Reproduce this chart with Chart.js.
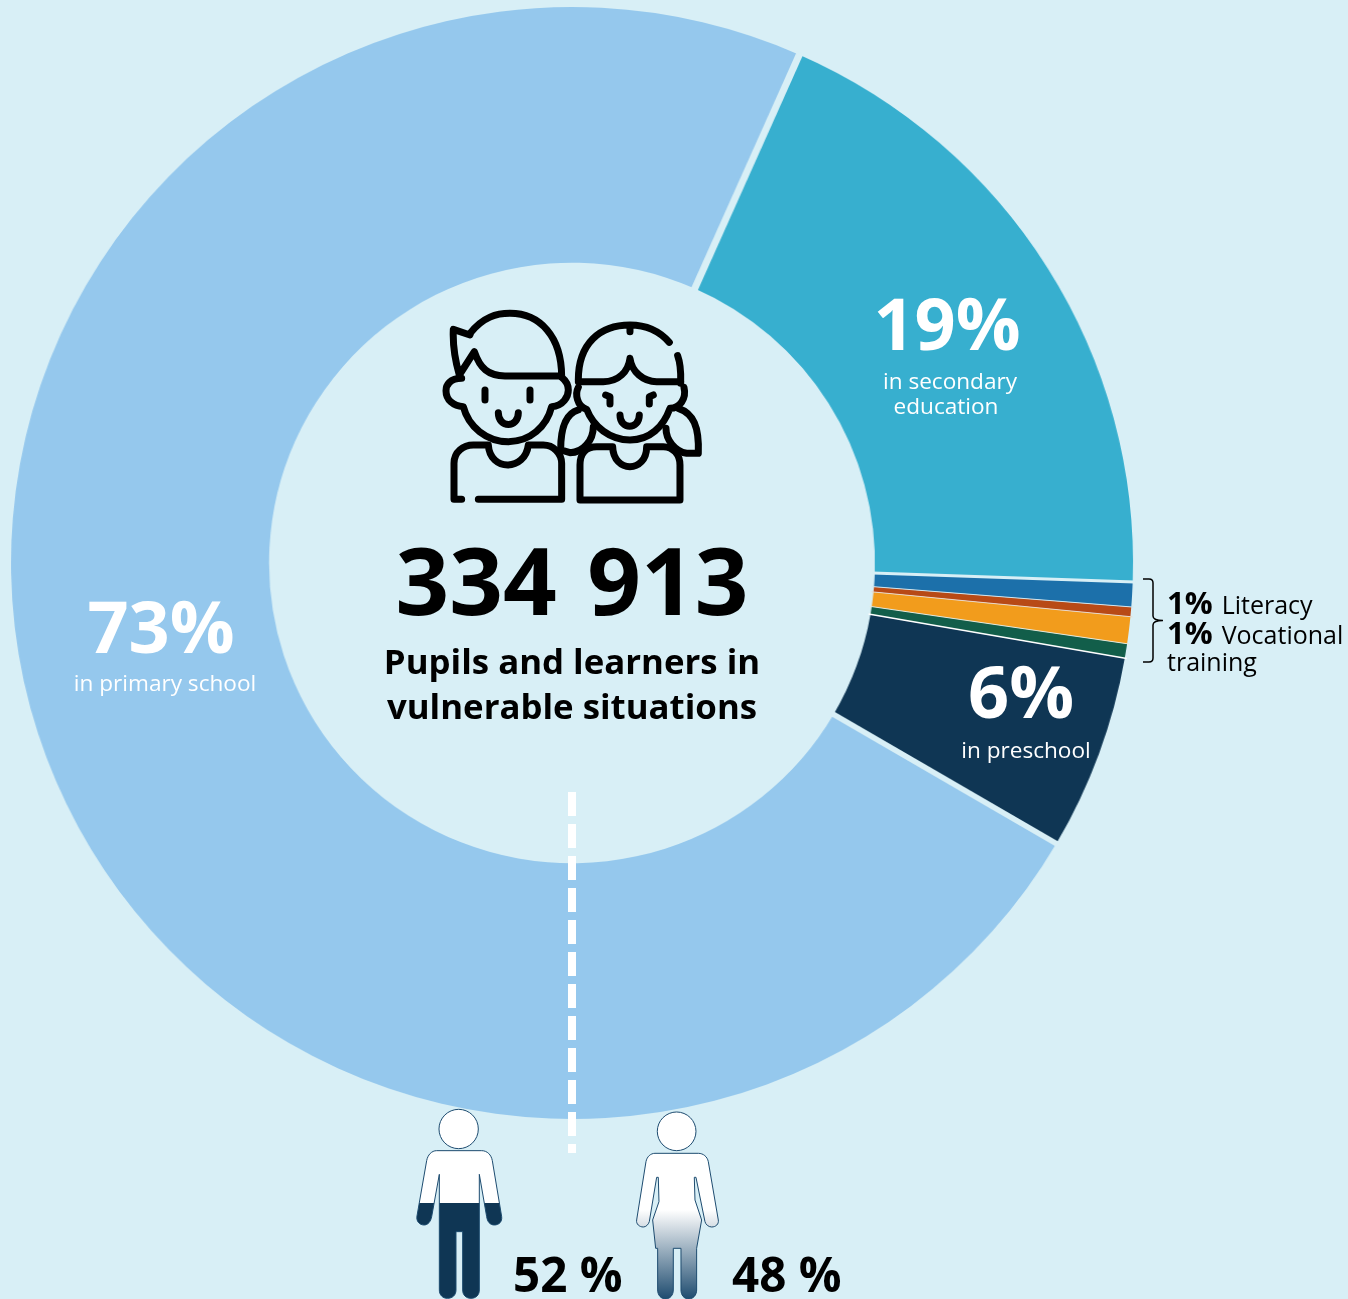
<!DOCTYPE html>
<html>
<head>
<meta charset="utf-8">
<title>Pupils and learners in vulnerable situations</title>
<script src="https://cdn.jsdelivr.net/npm/chart.js@4"></script>
<style>
html, body { margin: 0; padding: 0; background: #d8eff6; overflow: hidden; }
#wrap { position: relative; width: 1348px; height: 1299px; overflow: hidden; }
#wrap canvas { position: absolute; left: 0; top: 0; transform-origin: 572px 563px; transform: scaleX(1.009); }
#over { position: absolute; left: 0; top: 0; }
text { font-family: "Open Sans", sans-serif; }
.big { font-weight: 700; font-size: 72px; fill: #fff; text-anchor: middle; }
.sub { font-size: 22.6px; fill: #fff; text-anchor: middle; }
.mid { font-weight: 700; font-size: 34.8px; fill: #000; text-anchor: middle; }
.side { font-size: 25px; fill: #000; }
.side .b { font-weight: 700; font-size: 31px; }
.pct { font-weight: 700; font-size: 47.5px; fill: #000; }
</style>
</head>
<body>
<div id="wrap">
<canvas id="myChart" width="1348" height="1299"></canvas>
<svg id="over" width="1348" height="1299" viewBox="0 0 1348 1299">
  <defs>
    <linearGradient id="manFill" gradientUnits="userSpaceOnUse" x1="0" y1="0" x2="0" y2="640">
      <stop offset="0.53" stop-color="#fff"/><stop offset="0.53" stop-color="#0f3654"/>
    </linearGradient>
    <linearGradient id="womanFill" gradientUnits="userSpaceOnUse" x1="0" y1="360" x2="0" y2="630">
      <stop offset="0" stop-color="#fff"/><stop offset="1" stop-color="#1c4a6e"/>
    </linearGradient>
  </defs>

  <line x1="572" y1="792" x2="572" y2="1153" stroke="#fff" stroke-width="8" stroke-dasharray="24 8"/>

  <!-- kids icon, traced in zoom coords -->
  <g transform="translate(430,300) scale(0.3333)" fill="none" stroke="#000" stroke-width="21" stroke-linecap="round" stroke-linejoin="round">
    <path d="M120 105 L70 88 C68 130 75 180 88 225 L133 155 C150 205 175 228 225 228 L385 228"/>
    <path d="M120 100 C160 50 200 40 240 40 C330 40 395 110 395 230"/>
    <path d="M95 235 C60 235 48 255 48 272 C48 300 70 318 100 320 C115 380 170 425 235 425 C300 425 350 380 365 320 C400 318 415 290 415 270 C415 250 405 240 395 232"/>
    <path d="M165 270 L165 300 M300 270 L300 300 M205 338 C205 385 265 385 265 338"/>
    <path d="M95 598 L72 598 L72 490 C72 455 100 435 130 435 L175 435 C180 515 285 515 295 435 L340 435 C370 435 395 460 395 490 L395 598 L145 598"/>
    <path d="M445 240 C445 130 510 75 600 75 C650 75 690 95 718 127 M600 75 L600 95 M743 167 C755 200 752 240 752 250"/>
    <path d="M445 245 L520 245 C565 245 595 215 600 175 C605 215 640 245 680 245 L752 245"/>
    <path d="M445 262 C435 280 440 320 470 328 C490 380 540 420 600 420 C660 420 700 380 720 325 C750 325 770 295 762 262"/>
    <path d="M527 285 L540 290 L540 312 M670 285 L658 290 L658 312 M570 345 C570 390 628 390 628 345"/>
    <path d="M445 330 C410 340 392 375 392 450 L420 458 C460 458 490 420 490 380 M745 325 C790 340 808 380 805 460 L770 460 C735 455 708 420 708 385"/>
    <path d="M450 600 L450 495 C450 460 470 440 500 440 L548 440 C550 520 650 520 650 440 L700 440 C730 440 750 465 750 495 L750 600 Z"/>
  </g>

  <!-- man / woman figures -->
  <g transform="translate(400,1090) scale(0.3333)" stroke="#1c4a6e" stroke-width="3" stroke-linejoin="round">
    <circle cx="176" cy="117" r="59" fill="#fff"/>
    <path fill="url(#manFill)" d="M110 182 L245 182 C262 182 274 195 277 212 L305 380 C307 395 297 405 283 405 C270 405 262 395 260 380 L238 253 L238 600 C238 615 228 625 213 625 C198 625 188 615 188 600 L188 425 L168 425 L168 600 C168 615 158 625 142 625 C128 625 118 615 118 600 L118 253 L95 380 C92 395 84 405 72 405 C58 405 48 393 51 378 L80 212 C83 195 95 182 110 182 Z"/>
    <circle cx="830" cy="124" r="58" fill="#fff"/>
    <path fill="url(#womanFill)" d="M765 190 L895 190 C910 190 922 200 925 215 L955 390 C957 402 948 411 935 411 C925 411 917 403 915 395 L888 262 L883 262 L885 330 L905 390 L890 475 L890 600 C890 615 880 627 866 627 C852 627 843 615 843 600 L843 475 L820 475 L820 600 C820 615 810 627 797 627 C783 627 773 615 773 600 L773 475 L767 475 L758 390 L777 335 L775 262 L770 262 L748 395 C745 404 738 411 730 411 C718 411 708 402 710 390 L738 215 C741 200 752 190 765 190 Z"/>
  </g>

  <!-- bracket -->
  <path d="M1143 579 L1149 579 Q1153 579 1153 583 L1153 616 Q1153 620.5 1163 620.5 Q1153 620.5 1153 625 L1153 658 Q1153 662 1149 662 L1143 662" fill="none" stroke="#000" stroke-width="1.5"/>

  <text class="big" x="947" y="350">19%</text>
  <text class="sub" x="950" y="389">in secondary</text>
  <text class="sub" x="946" y="414">education</text>
  <text class="big" x="161" y="653">73%</text>
  <text class="sub" x="165" y="691">in primary school</text>
  <text class="big" x="1021" y="718">6%</text>
  <text class="sub" x="1026" y="758">in preschool</text>

  <text x="572" y="615" text-anchor="middle" font-weight="700" font-size="94" word-spacing="6">334 913</text>
  <text class="mid" x="572" y="674">Pupils and learners in</text>
  <text class="mid" x="572" y="719">vulnerable situations</text>

  <text class="side" x="1167" y="614"><tspan class="b">1%</tspan><tspan dx="9">Literacy</tspan></text>
  <text class="side" x="1167" y="644"><tspan class="b">1%</tspan><tspan dx="9">Vocational</tspan></text>
  <text class="side" x="1167" y="671">training</text>

  <text class="pct" x="513" y="1292">52 %</text>
  <text class="pct" x="732" y="1292">48 %</text>
</svg>
</div>

<script>
var ctx = document.getElementById('myChart').getContext('2d');

// order follows the ring clockwise, starting at the secondary slice
let labels = ['Secondary', 'Literacy', 'Other', 'Vocational', 'Other training', 'Preschool', 'Primary'];
let values = [18.9, 0.72, 0.28, 0.78, 0.42, 5.68, 73.22];
let colors = ['#37afcf', '#1c70aa', '#b84a16', '#f29c1c', '#125e4a', '#0f3654', '#95c8ed'];
// gap drawn after each slice
let gaps = [3, 1, 1, 1, 1.5, 5.5, 7];
let gapColors = ['#d8eff6', '#cfe6f0', '#e8d8cc', '#e8e8d8', '#ffffff', '#d8eff6', '#d8eff6'];

// separators between the slices, along each arc's end angle
const sliceGaps = {
    id: 'sliceGaps',
    afterDatasetsDraw(chart) {
        let c = chart.ctx;
        chart.getDatasetMeta(0).data.forEach(function (arc, i) {
            let a = arc.endAngle;
            c.save();
            c.strokeStyle = gapColors[i];
            c.lineWidth = gaps[i];
            c.beginPath();
            c.moveTo(arc.x + Math.cos(a) * (arc.innerRadius - 2), arc.y + Math.sin(a) * (arc.innerRadius - 2));
            c.lineTo(arc.x + Math.cos(a) * (arc.outerRadius + 2), arc.y + Math.sin(a) * (arc.outerRadius + 2));
            c.stroke();
            c.restore();
        });
    }
};

new Chart(ctx, {
    type: 'doughnut',
    data: {
        labels: labels,
        datasets: [{
            data: values,
            backgroundColor: colors,
            borderWidth: 0
        }]
    },
    options: {
        responsive: false,
        animation: false,
        rotation: 23.9,
        cutout: 304,
        radius: 556,
        layout: { padding: { left: 0, top: 0, right: 204, bottom: 173 } },
        plugins: { legend: { display: false }, tooltip: { enabled: false } }
    },
    plugins: [sliceGaps]
});
</script>
</body>
</html>
